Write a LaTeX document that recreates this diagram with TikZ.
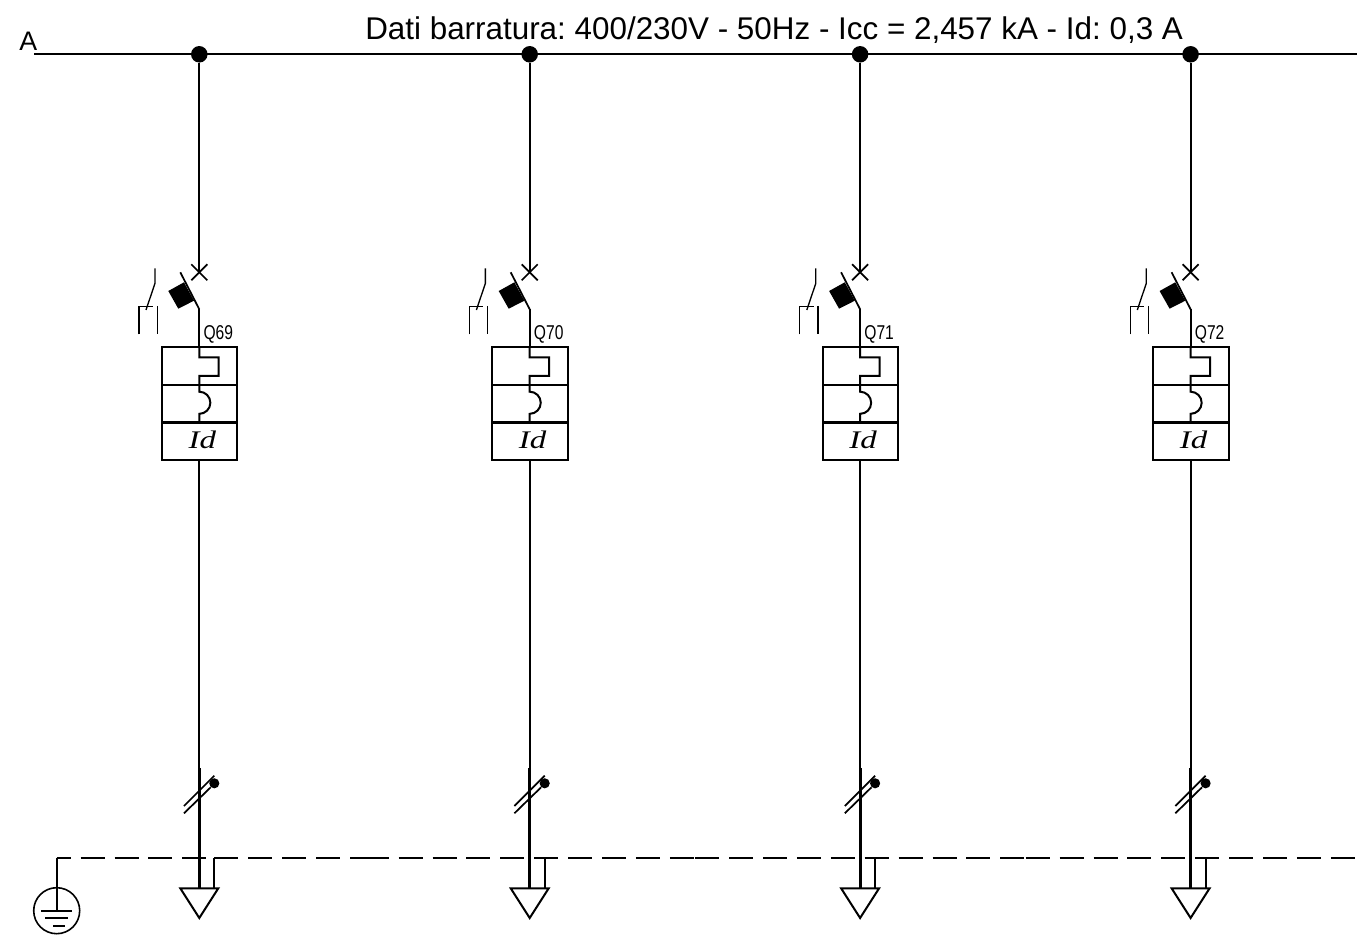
\documentclass[tikz,border=0pt]{standalone}
\usepackage{fontspec}
\setmainfont{Liberation Sans}
\newfontfamily\narrowf[FakeStretch=0.78]{Liberation Sans}
\newfontfamily\idf[FakeStretch=1.3]{Liberation Serif}
\frenchspacing
\tikzset{
  wire/.style={line width=1.5pt,black},
  thinw/.style={line width=1.3pt,black},
  boxl/.style={line width=1.5pt,black},
  thick cable/.style={line width=2.4pt,black},
  pedashed/.style={line width=1.5pt,black,dash pattern=on 18pt off 7.43pt},
  pedashedfirst/.style={line width=1.5pt,black,dash pattern=on 18pt off 7.43pt,dash phase=7.5pt},
  busdot/.style={circle,fill=black,draw=none,inner sep=0pt,minimum size=12.4pt},
  alabelstyle/.style={font=\fontsize{20.1pt}{22pt}\selectfont,anchor=base west,inner sep=0pt},
  titletext/.style={font=\fontsize{23.55pt}{25pt}\selectfont,anchor=base west,inner sep=0pt},
  qtext/.style={font=\narrowf\fontsize{15pt}{17pt}\selectfont,anchor=base west,inner sep=0pt},
  idtext/.style={font=\idf\itshape\fontsize{19pt}{21pt}\selectfont,inner sep=0pt,anchor=base},
}
\begin{document}
\begin{tikzpicture}[x=0.75pt,y=-0.75pt]
\useasboundingbox (0,0) rectangle (1367,944);
\fill[white] (0,0) rectangle (1367,944);
\coordinate (busL) at (34,54.3);
\coordinate (busR) at (1357,54.3);
\draw[wire] (busL) -- (busR);
\node[alabelstyle] (alabel) at (19,51) {A};
\node[titletext] (title) at (365,39.5) {Dati barratura: 400/230V - 50Hz - Icc = 2,457 kA - Id: 0,3 A};
% PE conductor
\coordinate (pe0) at (56.7,858.3);
\coordinate (gnd) at (56.7,910.7);
\node[circle,draw,line width=1.2pt,inner sep=0pt,minimum size=34.5pt] (gndc) at (gnd) {};
\draw[wire] (gnd) -- (pe0);
\draw[wire] (41,910.7) -- (72.3,910.7);
\draw[wire] (45,918.3) -- (68.3,918.3);
\draw[wire] (53.3,925.7) -- (65,925.7);
\coordinate (pe1) at (214.4,858.3);
\coordinate (pe2) at (364.7,858.3);
\coordinate (pe3) at (695.2,858.3);
\coordinate (pe4) at (1025.7,858.3);
\coordinate (pe5) at (1357,858.3);
\draw[pedashedfirst] (pe0) -- (pe1);
\draw[pedashed] (pe1) -- (pe2);
\draw[pedashed] (pe2) -- (pe3);
\draw[pedashed] (pe3) -- (pe4);
\draw[pedashed] (pe4) -- (pe5);
\foreach \i/\x/\q in {1/199.3/Q69,2/529.7/Q70,3/860.1/Q71,4/1190.6/Q72}{
\begin{scope}[shift={(\x,0)}]
  \node[busdot] (dot\i) at (0,54.3) {};
  \coordinate (cross\i) at (0,272.3);
  \coordinate (bl\i) at (0,309.3);
  \coordinate (tp\i) at (0,347.3);
  \draw[wire] (dot\i) -- (cross\i);
  \draw[thinw] (-8,264.3) -- (8,280.3);
  \draw[thinw] (-8,280.3) -- (8,264.3);
  % blade with actuator block
  \draw[thinw] (bl\i) -- (-19,272.3);
  \fill[black] (-31,291) -- (-15.3,282.3) -- (-5.3,300.7) -- (-21,308.7) -- cycle;
  \draw[wire] (bl\i) -- (tp\i);
  % auxiliary contact
  \draw[line width=1pt] (-44.3,268.3) -- (-44.3,283.3) -- (-53.3,310);
  \draw[line width=1pt] (-60.3,334.3) -- (-60.3,306.7) -- (-46.6,306.7);
  \draw[line width=1pt] (-42,306) -- (-42,334.3);
  % protection box
  \draw[boxl] (-37.6,347.3) rectangle (38,460);
  \draw[line width=1.9pt] (-37.6,385) -- (38,385);
  \draw[line width=1.9pt] (-37.6,422.7) -- (38,422.7);
  \draw[wire] (tp\i) -- (0,357.3) -- (19.4,357.3) -- (19.4,376) -- (0,376) -- (0,391.7)
     arc[start angle=90,end angle=-90,radius=8.3pt] -- (0,422.7);
  \node[idtext] (id\i) at (3,449) {Id};
  \node[qtext] (q\i) at (4,339.3) {\q};
  % cable
  \coordinate (bot\i) at (0,460);
  \coordinate (th\i) at (0,768);
  \coordinate (tb\i) at (0,888.3);
  \draw[wire] (bot\i) -- (th\i);
  \draw[thick cable] (th\i) -- (tb\i);
  \draw[thinw] (-15.3,806) -- (15,775.7);
  \draw[thinw] (-15.3,813.3) -- (11.4,787.3);
  \node[circle,fill=black,inner sep=0pt,minimum size=7.6pt] (cd\i) at (15,783.3) {};
  % terminal
  \coordinate (tl\i) at (-19,888.3);
  \coordinate (tr\i) at (19,888.3);
  \coordinate (ta\i) at (0,918);
  \draw[wire,line join=miter] (tl\i) -- (tr\i) -- (ta\i) -- cycle;
  \draw[wire] (15,858.3) -- (15,888.3);
\end{scope}
}
\end{tikzpicture}
\end{document}
